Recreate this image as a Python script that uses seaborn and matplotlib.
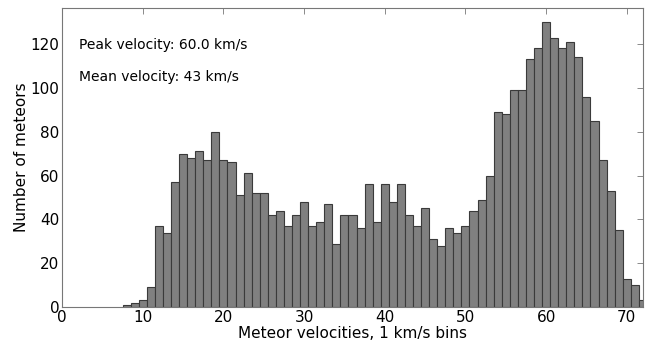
import numpy as np
import pandas as pd
from matplotlib import pyplot as plt
import seaborn as sns

velocity = list(range(8, 73))
counts = [1, 2, 3, 9, 37, 34, 57, 70, 68, 71, 67, 80, 67, 66, 51, 61, 52, 52,
          42, 44, 37, 42, 48, 37, 39, 47, 29, 42, 42, 36, 56, 39, 56, 48, 56,
          42, 37, 45, 31, 28, 36, 34, 37, 44, 49, 60, 89, 88, 99, 99, 113, 118,
          130, 123, 118, 121, 114, 96, 85, 67, 53, 35, 13, 10, 3]
peak_text = "Peak velocity: 60.0 km/s"
mean_text = "Mean velocity: 43 km/s"

df = pd.DataFrame({"v": velocity, "n": counts})

sns.set_style("white")
plt.rcParams["font.family"] = ["DejaVu Sans"]
plt.rcParams["text.color"] = "black"
plt.rcParams["axes.labelcolor"] = "black"

fig = plt.figure(figsize=(6.54, 3.45), dpi=100)
ax = fig.add_axes([0.095, 0.110, 0.888, 0.867])

sns.histplot(data=df, x="v", weights="n", discrete=True, ax=ax,
             color="#808080", edgecolor="#3a3a3a", linewidth=0.8, alpha=1)

ax.set_xlim(0, 72)
ax.set_ylim(0, 136.5)
ax.set_xticks(range(0, 71, 10))
ax.set_yticks(range(0, 121, 20))
ax.tick_params(direction="in", top=True, right=True, length=4, width=0.6,
               labelsize=11, colors="#777777", labelcolor="black", pad=2)
for s in ax.spines.values():
    s.set_color("#777777")
    s.set_linewidth(0.8)

ax.set_xlabel("Meteor velocities, 1 km/s bins", fontsize=11, labelpad=1)
ax.set_ylabel("Number of meteors", fontsize=11, labelpad=1)

ax.text(0.029, 0.876, peak_text, transform=ax.transAxes, fontsize=10, va="center")
ax.text(0.029, 0.769, mean_text, transform=ax.transAxes, fontsize=10, va="center")

fig.savefig("out.png", dpi=100)
